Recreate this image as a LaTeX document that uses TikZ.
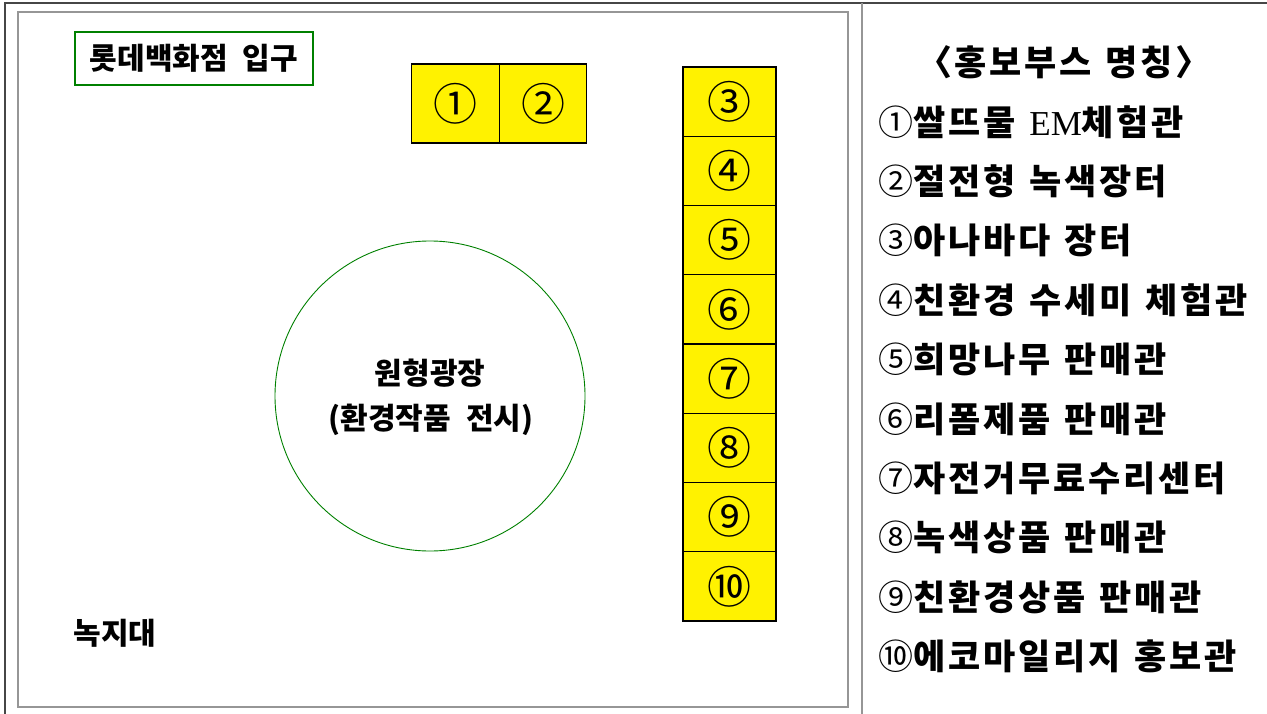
\documentclass[tikz,border=0pt]{standalone}
\usepackage{fontspec}
\setmainfont{Liberation Serif}
\newfontfamily\krsans{Noto Sans CJK KR}
\newfontfamily\krleg{Noto Sans CJK KR}[LetterSpace=8]
\newfontfamily\cnumfont{Noto Sans CJK KR}
\newcommand\kgap{\hspace{0.5em}}
\newcommand\lgap{\hspace{0.4em}}
\newcommand\cn[1]{{\cnumfont\mdseries #1}}
\definecolor{lgreen}{RGB}{0,128,0}
\definecolor{frame}{RGB}{70,70,70}
\definecolor{inner}{RGB}{150,150,150}
\tikzset{
  booth/.style={draw=black, line width=1.1pt, fill=yellow, inner sep=0pt,
    font=\cnumfont\fontsize{44}{44}\selectfont},
  pair/.style={booth, minimum width=87.5pt, minimum height=79pt},
  cell/.style={booth, minimum width=93pt, minimum height=69.25pt},
  label/.style={inner sep=0pt, font=\krsans\bfseries\fontsize{30}{32}\selectfont},
  legend/.style={inner sep=0pt, anchor=west, font=\krleg\bfseries\fontsize{35}{37}\selectfont},
}
\begin{document}
\begin{tikzpicture}[x=1pt,y=-1pt]
\useasboundingbox (0,0) rectangle (1267,714);
% frames
\draw[frame, line width=1.8pt] (5,714) -- (5,3) -- (1267,3);
\draw[inner, line width=2pt] (862,3) -- (862,714);
\draw[inner, line width=1.3pt] (18,12) rectangle (848,707);
% entrance
\node[label, draw=lgreen, line width=1.1pt, minimum width=238pt, minimum height=53pt] (entr) at (194,58.5) {롯데백화점\kgap 입구};
% booths 1,2
\node[pair] (b1) at (455.5,103.5) {①};
\node[pair] (b2) at (543,103.5) {②};
% column
\foreach \n/\s [count=\i from 0] in {3/③,4/④,5/⑤,6/⑥,7/⑦,8/⑧,9/⑨,10/⑩}{
  \node[cell] (b\n) at (729.5,{101.6+69.25*\i}) {\s};
}
% plaza
\node[draw=lgreen, line width=0.9pt, circle, minimum size=310pt, inner sep=0pt] (plaza) at (430,396) {};
\node[label] (plazaA) at (430,373) {원형광장};
\node[label] (plazaB) at (431,420) {(환경작품\kgap 전시)};
% green zone
\node[label] (green) at (115,633) {녹지대};
% legend
\node[inner sep=0pt, font=\krleg\bfseries\fontsize{35}{37}\selectfont] (ltitle) at (1064,62) {〈홍보부스\lgap 명칭〉};
\node[legend] (l1) at (878,122.0) {\cn{①}쌀뜨물\lgap{\rmfamily\mdseries EM}체험관};
\node[legend] (l2) at (878,181.4) {\cn{②}절전형\lgap 녹색장터};
\node[legend] (l3) at (878,240.8) {\cn{③}아나바다\lgap 장터};
\node[legend] (l4) at (878,300.2) {\cn{④}친환경\lgap 수세미\lgap 체험관};
\node[legend] (l5) at (878,359.6) {\cn{⑤}희망나무\lgap 판매관};
\node[legend] (l6) at (878,419.0) {\cn{⑥}리폼제품\lgap 판매관};
\node[legend] (l7) at (878,478.4) {\cn{⑦}자전거무료수리센터};
\node[legend] (l8) at (878,537.8) {\cn{⑧}녹색상품\lgap 판매관};
\node[legend] (l9) at (878,597.2) {\cn{⑨}친환경상품\lgap 판매관};
\node[legend] (l10) at (878,656.6) {\cn{⑩}에코마일리지\lgap 홍보관};
\end{tikzpicture}
\end{document}
